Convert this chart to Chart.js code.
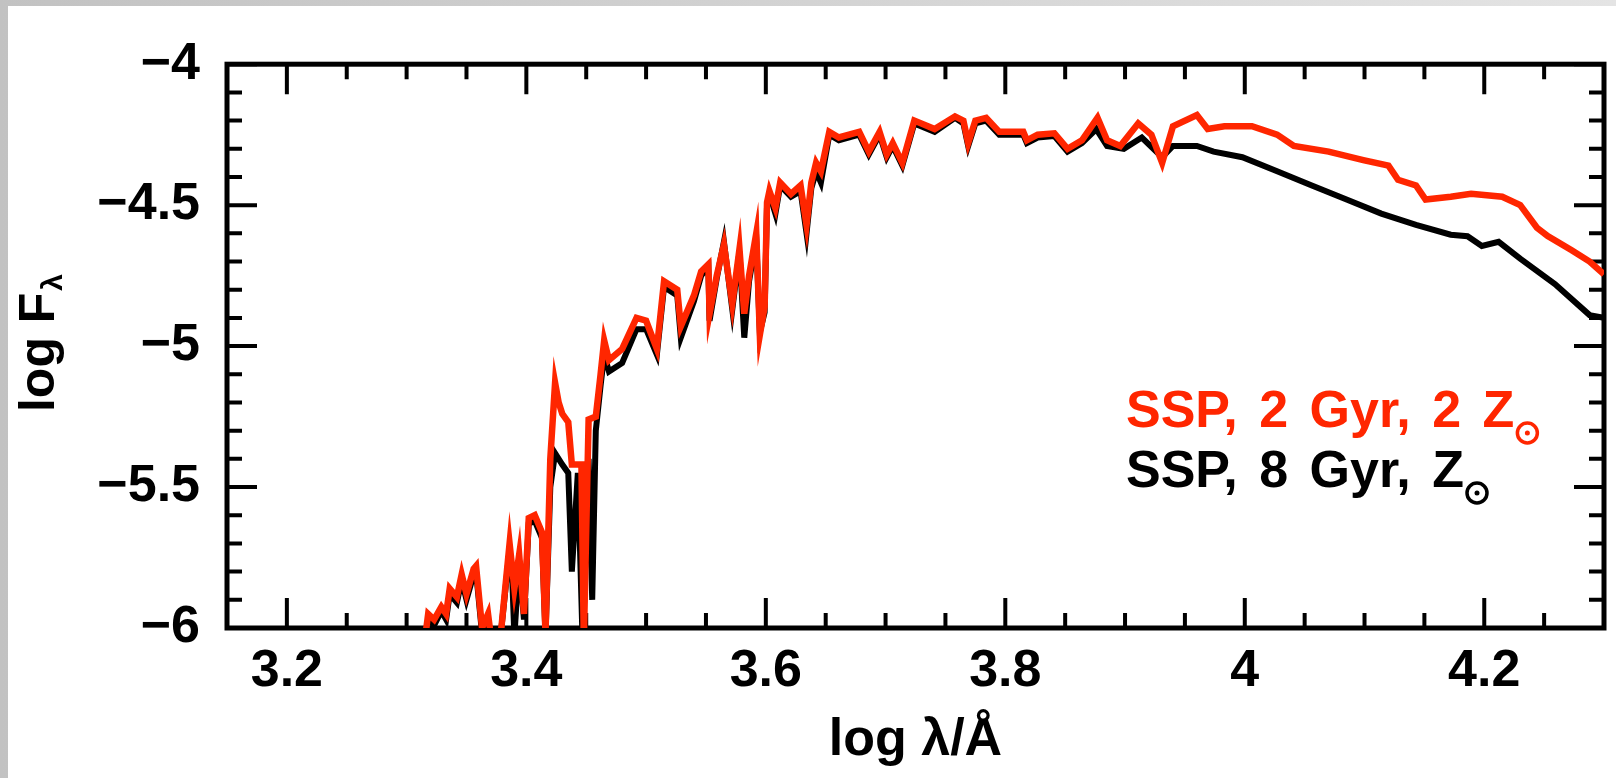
<!DOCTYPE html>
<html>
<head>
<meta charset="utf-8">
<title>SSP spectra</title>
<script src="https://cdn.jsdelivr.net/npm/chart.js@4/dist/chart.umd.min.js"></script>
<style>
  html, body { margin: 0; padding: 0; }
  body {
    width: 1616px; height: 778px; overflow: hidden;
    background: linear-gradient(to right, #c2c2c2, #e4e4e4);
  }
  #wrap {
    position: absolute; left: 8px; top: 6px;
    width: 1608px; height: 772px; background: #fff;
  }
</style>
</head>
<body>
<div id="wrap"><canvas id="sed" width="1608" height="772"></canvas></div>
<script>
// SSP, 2 Gyr, 2 Zsun  (red)
const redLogLambda = [
  3.315, 3.318, 3.323, 3.329, 3.333, 3.336, 3.342, 3.346, 3.350, 3.356,
  3.358, 3.363, 3.368, 3.371, 3.378, 3.386, 3.390, 3.394, 3.398, 3.402,
  3.407, 3.413, 3.416, 3.420, 3.424, 3.427, 3.430, 3.435, 3.438, 3.446,
  3.448, 3.452, 3.458, 3.462, 3.465, 3.469, 3.480, 3.492, 3.500, 3.509,
  3.515, 3.526, 3.529, 3.540, 3.546, 3.552, 3.553, 3.559, 3.565, 3.572,
  3.578, 3.582, 3.586, 3.592, 3.595, 3.599, 3.601, 3.603, 3.608, 3.612,
  3.621, 3.629, 3.634, 3.638, 3.642, 3.646, 3.653, 3.661, 3.678, 3.686,
  3.695, 3.701, 3.706, 3.714, 3.724, 3.741, 3.758, 3.765, 3.769, 3.775,
  3.784, 3.795, 3.815, 3.818, 3.827, 3.841, 3.852, 3.864, 3.877, 3.885,
  3.896, 3.911, 3.922, 3.931, 3.940, 3.960, 3.969, 3.983, 4.006, 4.027,
  4.041, 4.070, 4.099, 4.120, 4.128, 4.143, 4.151, 4.172, 4.189, 4.215,
  4.230, 4.244, 4.253, 4.273, 4.288, 4.300
];
const redLogF = [
  -6.05, -5.95, -5.97, -5.925, -5.95, -5.86, -5.89, -5.81, -5.88, -5.79,
  -5.78, -6.0, -5.95, -6.05, -6.05, -5.70, -5.86, -5.74, -5.95, -5.61,
  -5.60, -5.66, -6.02, -5.40, -5.13, -5.20, -5.24, -5.27, -5.42, -5.42,
  -6.05, -5.26, -5.25, -5.10, -4.98, -5.05, -5.01, -4.90, -4.91, -5.01,
  -4.77, -4.80, -4.93, -4.82, -4.735, -4.71, -4.885, -4.75, -4.64, -4.85,
  -4.655, -4.885, -4.75, -4.60, -4.96, -4.86, -4.49, -4.45, -4.51, -4.42,
  -4.46, -4.43, -4.57, -4.42, -4.35, -4.38, -4.24, -4.26, -4.24, -4.31,
  -4.24, -4.32, -4.28, -4.35, -4.20, -4.23, -4.185, -4.20, -4.28, -4.20,
  -4.19, -4.24, -4.24, -4.27, -4.25, -4.245, -4.30, -4.27, -4.19, -4.27,
  -4.29, -4.21, -4.25, -4.35, -4.22, -4.18, -4.23, -4.22, -4.22, -4.25,
  -4.29, -4.31, -4.34, -4.36, -4.41, -4.43, -4.48, -4.47, -4.46, -4.47,
  -4.50, -4.58, -4.61, -4.66, -4.70, -4.745
];

// SSP, 8 Gyr, Zsun  (black)
const blackLogLambda = [
  3.315, 3.318, 3.323, 3.329, 3.333, 3.336, 3.342, 3.346, 3.350, 3.356,
  3.358, 3.363, 3.368, 3.371, 3.378, 3.386, 3.388, 3.390, 3.394, 3.398,
  3.402, 3.407, 3.413, 3.416, 3.420, 3.424, 3.430, 3.435, 3.438, 3.443,
  3.447, 3.452, 3.455, 3.458, 3.462, 3.465, 3.469, 3.480, 3.492, 3.500,
  3.509, 3.515, 3.526, 3.529, 3.540, 3.546, 3.552, 3.553, 3.559, 3.565,
  3.572, 3.578, 3.582, 3.586, 3.592, 3.595, 3.599, 3.601, 3.603, 3.608,
  3.612, 3.621, 3.629, 3.634, 3.638, 3.642, 3.646, 3.653, 3.661, 3.678,
  3.686, 3.695, 3.701, 3.706, 3.714, 3.724, 3.741, 3.758, 3.765, 3.769,
  3.775, 3.784, 3.795, 3.815, 3.818, 3.827, 3.841, 3.852, 3.864, 3.876,
  3.885, 3.899, 3.914, 3.931, 3.940, 3.960, 3.974, 3.998, 4.027, 4.056,
  4.085, 4.114, 4.143, 4.172, 4.186, 4.198, 4.212, 4.230, 4.259, 4.288,
  4.300
];
const blackLogF = [
  -6.05, -5.97, -5.99, -5.94, -5.97, -5.88, -5.91, -5.83, -5.90, -5.81,
  -5.80, -6.02, -5.97, -6.05, -6.05, -5.72, -5.80, -6.03, -5.76, -5.97,
  -5.63, -5.62, -5.68, -6.03, -5.50, -5.38, -5.42, -5.45, -5.80, -5.45,
  -6.05, -5.40, -5.90, -5.30, -5.14, -5.03, -5.09, -5.06, -4.94, -4.94,
  -5.03, -4.79, -4.82, -4.97, -4.84, -4.75, -4.72, -4.91, -4.76, -4.63,
  -4.87, -4.665, -4.97, -4.77, -4.62, -4.95, -4.88, -4.50, -4.46, -4.53,
  -4.43, -4.47, -4.45, -4.60, -4.44, -4.38, -4.42, -4.25, -4.27, -4.25,
  -4.32, -4.25, -4.33, -4.29, -4.36, -4.21, -4.24, -4.19, -4.21, -4.29,
  -4.21, -4.20, -4.25, -4.25, -4.28, -4.26, -4.255, -4.31, -4.28, -4.23,
  -4.29, -4.30, -4.26, -4.33, -4.29, -4.29, -4.31, -4.33, -4.38, -4.43,
  -4.48, -4.53, -4.57, -4.605, -4.61, -4.645, -4.63, -4.69, -4.78, -4.89,
  -4.90
];

const xRange = [3.15, 4.3];
const yRange = [-6, -4];
const xMajorStep = 0.2, xMinorStep = 0.05;
const yMajorStep = 0.5, yMinorStep = 0.1;

const legendLines = [
  { text: "SSP, 2 Gyr, 2 Z", color: "#ff2600" },
  { text: "SSP, 8 Gyr, Z", color: "#000000" }
];

const FONT = "'Liberation Sans', Arial, Helvetica, sans-serif";
const RED = "#ff2600";

function toPoints(xs, ys) {
  return xs.map((v, i) => ({ x: v, y: ys[i] }));
}

// frame with inward major/minor ticks on all four sides
const frameTicks = {
  id: "frameTicks",
  beforeDatasetsDraw(chart) {
    const { ctx, chartArea: a, scales: { x, y } } = chart;
    ctx.save();
    ctx.strokeStyle = "#000";
    ctx.lineWidth = 4;
    const nx = Math.round((xRange[1] - xRange[0]) / xMinorStep);
    for (let k = 0; k <= nx; k++) {
      const v = xRange[0] + k * xMinorStep;
      const r = v / xMajorStep;
      const major = Math.abs(r - Math.round(r)) < 1e-6;
      const len = major ? 30 : 15;
      const px = x.getPixelForValue(v);
      ctx.beginPath();
      ctx.moveTo(px, a.bottom); ctx.lineTo(px, a.bottom - len);
      ctx.moveTo(px, a.top); ctx.lineTo(px, a.top + len);
      ctx.stroke();
    }
    const ny = Math.round((yRange[1] - yRange[0]) / yMinorStep);
    for (let k = 0; k <= ny; k++) {
      const v = yRange[0] + k * yMinorStep;
      const r = v / yMajorStep;
      const major = Math.abs(r - Math.round(r)) < 1e-6;
      const len = major ? 30 : 15;
      const py = y.getPixelForValue(v);
      ctx.beginPath();
      ctx.moveTo(a.left, py); ctx.lineTo(a.left + len, py);
      ctx.moveTo(a.right, py); ctx.lineTo(a.right - len, py);
      ctx.stroke();
    }
    ctx.lineWidth = 5;
    ctx.strokeRect(a.left, a.top, a.right - a.left, a.bottom - a.top);
    ctx.restore();
  }
};

function drawSun(ctx, cx, cy, color) {
  ctx.save();
  ctx.strokeStyle = color;
  ctx.fillStyle = color;
  ctx.lineWidth = 3.5;
  ctx.beginPath();
  ctx.arc(cx, cy, 10, 0, Math.PI * 2);
  ctx.stroke();
  ctx.beginPath();
  ctx.arc(cx, cy, 2.5, 0, Math.PI * 2);
  ctx.fill();
  ctx.restore();
}

// y title with subscript lambda, and the in-plot labels
const annotations = {
  id: "annotations",
  afterDraw(chart) {
    const { ctx } = chart;
    ctx.save();
    // y axis title
    ctx.translate(46, 337);
    ctx.rotate(-Math.PI / 2);
    ctx.fillStyle = "#000";
    ctx.font = "bold 50px " + FONT;
    const main = "log F";
    const w1 = ctx.measureText(main).width;
    ctx.font = "bold 30px " + FONT;
    const w2 = ctx.measureText("\u03bb").width;
    const x0 = -(w1 + w2 + 2) / 2;
    ctx.font = "bold 50px " + FONT;
    ctx.textBaseline = "alphabetic";
    ctx.fillText(main, x0, 0);
    ctx.font = "bold 30px " + FONT;
    ctx.fillText("\u03bb", x0 + w1 + 2, 8);
    ctx.restore();

    // labels
    ctx.save();
    ctx.font = "bold 52px " + FONT;
    ctx.textBaseline = "alphabetic";
    const startX = 1118, baselines = [421, 481], extraSpace = 7;
    legendLines.forEach((ln, i) => {
      ctx.fillStyle = ln.color;
      let cx = startX;
      const words = ln.text.split(" ");
      const sp = ctx.measureText(" ").width + extraSpace;
      words.forEach((w, j) => {
        ctx.fillText(w, cx, baselines[i]);
        cx += ctx.measureText(w).width;
        if (j < words.length - 1) cx += sp;
      });
      drawSun(ctx, cx + 13, baselines[i] + 6, ln.color);
    });
    ctx.restore();
  }
};

const fmt = (v) => {
  const s = String(Math.round(v * 100) / 100);
  return s.replace("-", "\u2212");
};

// dataset 0 is painted last, so the red spectrum goes first to sit on top
new Chart(document.getElementById("sed"), {
  type: "scatter",
  data: {
    datasets: [
      {
        label: "SSP, 2 Gyr, 2 Z",
        data: toPoints(redLogLambda, redLogF),
        showLine: true,
        borderColor: RED,
        borderWidth: 6.5,
        pointRadius: 0,
        tension: 0
      },
      {
        label: "SSP, 8 Gyr, Z",
        data: toPoints(blackLogLambda, blackLogF),
        showLine: true,
        borderColor: "#000000",
        borderWidth: 6,
        pointRadius: 0,
        tension: 0
      }
    ]
  },
  options: {
    responsive: false,
    animation: false,
    layout: { padding: { top: 39, right: 12, left: 0, bottom: 0 } },
    plugins: {
      legend: { display: false },
      tooltip: { enabled: false }
    },
    scales: {
      x: {
        type: "linear",
        min: xRange[0],
        max: xRange[1],
        grid: { display: false, drawTicks: false },
        border: { display: false },
        ticks: {
          stepSize: xMajorStep,
          includeBounds: false,
          autoSkip: false,
          maxRotation: 0,
          padding: 12,
          color: "#000",
          font: { family: FONT, size: 52, weight: "bold" },
          callback: fmt
        },
        title: {
          display: true,
          text: "log \u03bb/\u00c5",
          color: "#000",
          font: { family: FONT, size: 52, weight: "bold" },
          padding: { top: 0, bottom: 6 }
        },
        afterFit(scale) { scale.height = 150; }
      },
      y: {
        type: "linear",
        min: yRange[0],
        max: yRange[1],
        grid: { display: false, drawTicks: false },
        border: { display: false },
        ticks: {
          stepSize: yMajorStep,
          padding: 27,
          color: "#000",
          font: { family: FONT, size: 52, weight: "bold" },
          callback: fmt
        },
        afterFit(scale) { scale.width = 219; }
      }
    }
  },
  plugins: [frameTicks, annotations]
});
</script>
</body>
</html>
